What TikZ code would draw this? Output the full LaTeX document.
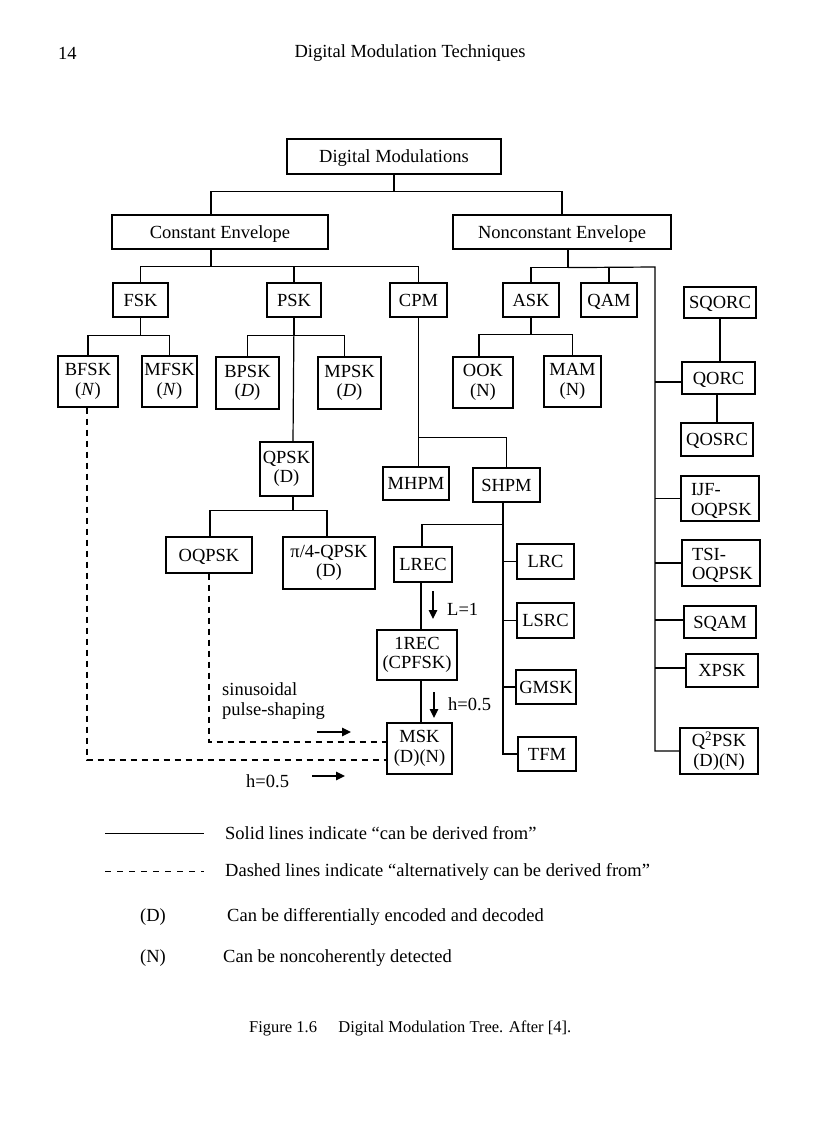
\documentclass[tikz,border=0pt]{standalone}
\usepackage{fontspec}
\setmainfont{Liberation Serif}
\usetikzlibrary{arrows.meta}
\begin{document}
\begin{tikzpicture}[x=1pt,y=-1pt,
  box/.style={draw,line width=1.2pt,inner sep=0pt,align=center,
    font=\fontsize{18.5}{19.5}\selectfont,text height=14pt,text depth=2pt},
  mbox/.style={draw,line width=1.2pt,inner sep=0pt,align=center,
    font=\fontsize{18.5}{19.5}\selectfont,execute at begin node={\rule{0pt}{17pt}}},
  lbl/.style={inner sep=0pt,font=\fontsize{18.5}{20}\selectfont},
  link/.style={line width=1.2pt},
  alt/.style={line width=1.2pt,dash pattern=on 6pt off 5pt},
  arr/.style={line width=1.5pt,-{Triangle[length=9pt,width=8.5pt]}}]
\useasboundingbox[fill=white] (0,0) rectangle (816,1123);

% header
\node[lbl,anchor=west] (pg) at (58,53) {14};
\node[lbl] (hdr) at (410,53) {Digital Modulation Techniques};

% boxes
\node[box,minimum width=214pt,minimum height=35pt] (DM) at (394,156.5) {Digital Modulations};
\node[box,minimum width=216pt,minimum height=34pt] (CE) at (220,232) {Constant Envelope};
\node[box,minimum width=218pt,minimum height=34pt] (NE) at (562,232) {Nonconstant Envelope};
\node[box,minimum width=55pt,minimum height=34pt] (FSK) at (140.5,300) {FSK};
\node[box,minimum width=54pt,minimum height=34pt] (PSK) at (294,300) {PSK};
\node[box,minimum width=57pt,minimum height=34pt] (CPM) at (418.5,300) {CPM};
\node[box,minimum width=56pt,minimum height=34pt] (ASK) at (531,300) {ASK};
\node[box,minimum width=56pt,minimum height=34pt] (QAM) at (609,300) {QAM};
\node[box,minimum width=72pt,minimum height=31pt] (SQORC) at (720,302.5) {SQORC};
\node[mbox,minimum width=60pt,minimum height=51pt] (BFSK) at (88,381.5) {BFSK\\(\textit{N})};
\node[mbox,minimum width=55pt,minimum height=51pt] (MFSK) at (169.5,381.5) {MFSK\\(\textit{N})};
\node[mbox,minimum width=63pt,minimum height=52pt] (BPSK) at (247.5,383) {BPSK\\(\textit{D})};
\node[mbox,minimum width=63pt,minimum height=52pt] (MPSK) at (349.5,383) {MPSK\\(\textit{D})};
\node[mbox,minimum width=60pt,minimum height=51pt] (OOK) at (483,382.5) {OOK\\(N)};
\node[mbox,minimum width=57pt,minimum height=51pt] (MAM) at (572.5,381.5) {MAM\\(N)};
\node[box,minimum width=73pt,minimum height=32pt] (QORC) at (718.5,378) {QORC};
\node[box,minimum width=72pt,minimum height=33pt] (QOSRC) at (717,439.5) {QOSRC};
\node[mbox,minimum width=53pt,minimum height=54pt] (QPSK) at (286.5,469) {QPSK\\(D)};
\node[box,minimum width=66pt,minimum height=33pt] (MHPM) at (416,483.5) {MHPM};
\node[box,minimum width=67pt,minimum height=34pt] (SHPM) at (506.5,485) {SHPM};
\node[mbox,minimum width=78pt,minimum height=45pt,align=left,text width=58pt] (IJF) at (720,498.5) {IJF-\\OQPSK};
\node[box,minimum width=86pt,minimum height=36pt] (OQPSK) at (209,555) {OQPSK};
\node[mbox,minimum width=92pt,minimum height=52pt] (pifour) at (329,563) {π/4-QPSK\\(D)};
\node[box,minimum width=58pt,minimum height=35pt] (LREC) at (423,564.5) {LREC};
\node[box,minimum width=57pt,minimum height=35pt] (LRC) at (545.5,561.5) {LRC};
\node[mbox,minimum width=78pt,minimum height=46pt,align=left,text width=58pt] (TSI) at (721,563) {TSI-\\OQPSK};
\node[box,minimum width=57pt,minimum height=35pt] (LSRC) at (545.5,620.5) {LSRC};
\node[box,minimum width=72pt,minimum height=32pt] (SQAM) at (720,622) {SQAM};
\node[mbox,minimum width=80pt,minimum height=50pt] (recone) at (417,655) {1REC\\(CPFSK)};
\node[box,minimum width=72pt,minimum height=33pt] (XPSK) at (722,670.5) {XPSK};
\node[box,minimum width=60pt,minimum height=34pt] (GMSK) at (546,687) {GMSK};
\node[mbox,minimum width=65pt,minimum height=51pt] (MSK) at (419.5,748.5) {MSK\\(D)(N)};
\node[box,minimum width=58pt,minimum height=34pt] (TFM) at (547,754) {TFM};
\node[mbox,minimum width=78pt,minimum height=46pt] (QQPSK) at (719,751) {Q\textsuperscript{2}PSK\\(D)(N)};

% solid connectors
\draw[link] (DM.south) -- ++(0,17) coordinate (b0);
\draw[link] ([xshift=-9pt]CE.north) |- (b0) -| (NE.north);
\draw[link] ([xshift=-9pt]CE.south) -- ++(0,17) coordinate (b1);
\draw[link] (FSK.north) |- (b1) -| (CPM.north);
\draw[link] (PSK.north) -- (PSK.north |- b1);
\draw[link] (FSK.south) -- ++(0,18) coordinate (b2);
\draw[link] (BFSK.north) |- (b2) -| (MFSK.north);
\draw[link] (PSK.south) -- ++(0,18) coordinate (b3);
\draw[link] (BPSK.north) |- (b3) -| ([xshift=-5pt]MPSK.north);
\draw[link] (PSK.south) -- ([xshift=6.5pt]QPSK.north);
\draw[link] ([xshift=6.5pt]QPSK.south) -- ++(0,14) coordinate (b4);
\draw[link] ([xshift=1pt]OQPSK.north) |- (b4) -| ([xshift=-2pt]pifour.north);
\draw[link] (CPM.south) -- ++(0,120) coordinate (b5);
\draw[link] (b5) -- (MHPM.north -| b5);
\draw[link] (b5) -| (SHPM.north);
\draw[link] ([xshift=-3.5pt]SHPM.south) -- ++(0,22) coordinate (b6);
\draw[link] (b6) -| ([xshift=-1pt]LREC.north);
\draw[link] (b6) |- (TFM.west);
\draw[link] (LRC.west) -- (LRC.west -| b6);
\draw[link] (LSRC.west) -- (LSRC.west -| b6);
\draw[link] (GMSK.west) -- (GMSK.west -| b6);
\draw[link] ([xshift=-2pt]LREC.south) -- ([xshift=-2pt]LREC.south |- recone.north);
\draw[link] ([xshift=-2pt]LREC.south |- recone.south) -- ([xshift=-2pt]LREC.south |- MSK.north);
\draw[link] ([xshift=6pt]NE.south) -- ++(0,18) coordinate (b7);
\draw[link] (ASK.north) |- (b7);
\draw[link] (QAM.north) -- (QAM.north |- b7);
\coordinate (rv) at (655,267);
\draw[link] (b7) -- (rv) |- (QQPSK.west);
\draw[link] ([yshift=-4pt]QORC.west) -- ([yshift=-4pt]QORC.west -| rv);
\draw[link] (IJF.west) -- (IJF.west -| rv);
\draw[link] (TSI.west) -- (TSI.west -| rv);
\draw[link] ([yshift=2pt]SQAM.west) -- ([yshift=2pt]SQAM.west -| rv);
\draw[link] ([yshift=2.5pt]XPSK.west) -- ([yshift=2.5pt]XPSK.west -| rv);
\draw[link] (SQORC.south) -- (SQORC.south |- QORC.north);
\draw[link] ([xshift=-1.5pt]QORC.south) -- ([xshift=-1.5pt]QORC.south |- QOSRC.north);
\draw[link] (ASK.south) -- ++(0,17) coordinate (b8);
\draw[link] ([xshift=-4pt]OOK.north) |- (b8) -| (MAM.north);

% dashed connectors
\draw[alt] (OQPSK.south) |- ([yshift=6.5pt]MSK.west);
\draw[alt] ([xshift=-1pt]BFSK.south) |- ([yshift=-11.5pt]MSK.west);

% arrows and labels
\coordinate (a1s) at (433,591); \coordinate (a1e) at (433,619);
\draw[arr] (a1s) -- (a1e);
\node[lbl,anchor=west] (lone) at (447,609) {L=1};
\coordinate (a2s) at (434,692); \coordinate (a2e) at (434,718);
\draw[arr] (a2s) -- (a2e);
\node[lbl,anchor=west] (hone) at (448,704) {h=0.5};
\node[lbl,anchor=west,align=left] (sinus) at (222,701) {sinusoidal\\pulse-shaping};
\coordinate (a3s) at (317,732); \coordinate (a3e) at (351,732);
\draw[arr] (a3s) -- (a3e);
\node[lbl,anchor=west] (htwo) at (246,781) {h=0.5};
\coordinate (a4s) at (312,776); \coordinate (a4e) at (345,776);
\draw[arr] (a4s) -- (a4e);

% legend
\coordinate (l1s) at (105,833); \coordinate (l1e) at (204,833);
\draw[line width=1pt] (l1s) -- (l1e);
\node[lbl,anchor=west] (t1) at (225,833) {Solid lines indicate “can be derived from”};
\coordinate (l2s) at (105,871); \coordinate (l2e) at (204,871);
\draw[line width=1pt,dash pattern=on 6pt off 6pt] (l2s) -- (l2e);
\node[lbl,anchor=west] (t2) at (225,872) {Dashed lines indicate “alternatively can be derived from”};
\node[lbl,anchor=west] (dd) at (140,917) {(D)};
\node[lbl,anchor=west] (t3) at (227,917) {Can be differentially encoded and decoded};
\node[lbl,anchor=west] (nn) at (140,958) {(N)};
\node[lbl,anchor=west] (t4) at (223,958) {Can be noncoherently detected};

% caption
\node[inner sep=0pt,anchor=west,font=\fontsize{16.5}{18}\selectfont] (cap) at (249,1028) {Figure 1.6\hspace{1.3em}Digital Modulation Tree. After [4].};
\end{tikzpicture}
\end{document}
